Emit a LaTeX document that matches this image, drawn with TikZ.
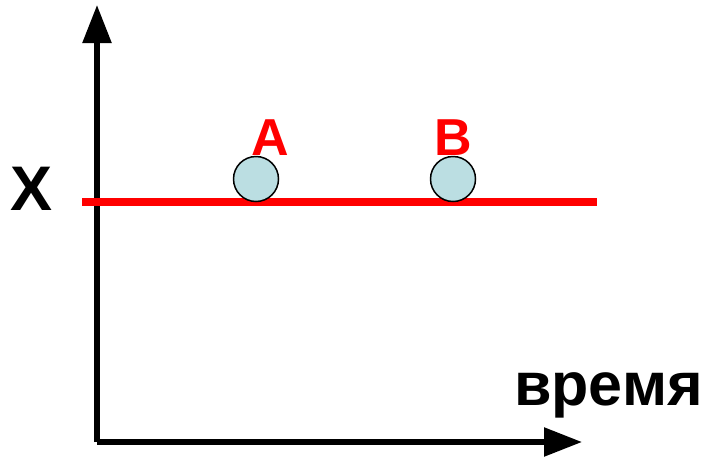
\documentclass[tikz,border=0pt]{standalone}
\usepackage{fontspec}
\setmainfont{Liberation Sans}
\usetikzlibrary{arrows.meta}
\definecolor{ballblue}{RGB}{187,222,226}
\tikzset{
    axis/.style={line width=5.5pt, -{Triangle[length=38pt, width=28pt]}},
    xline/.style={red, line width=7.5pt},
    ball/.style={circle, draw=black, line width=1.5pt, fill=ballblue, minimum size=45pt, inner sep=0pt},
    redlabel/.style={red, font=\bfseries\fontsize{52}{52}\selectfont, inner sep=0pt, anchor=base},
    blacklabel/.style={black, font=\bfseries\fontsize{61}{61}\selectfont, inner sep=0pt}
}
\begin{document}
\begin{tikzpicture}[x=1pt, y=-1pt]
    \useasboundingbox (0,0) rectangle (708,458);
    % axes
    \coordinate (o) at (97,442);
    \coordinate (top) at (97,5);
    \coordinate (right) at (582,442);
    \draw[axis] (o) -- (top);
    \draw[axis] (o) -- (right);
    % x level
    \coordinate (xl) at (82,202);
    \coordinate (xr) at (597,202);
    \draw[xline] (xl) -- (xr);
    % balls
    \node[ball] (a) at (256,179) {};
    \node[ball] (b) at (453,179) {};
    % labels
    \node[redlabel] (la) at (270,155) {A};
    \node[redlabel] (lb) at (453,155) {B};
    \node[blacklabel, anchor=base, font=\bfseries\fontsize{63}{63}\selectfont] (lx) at (32,210) {X};
    \node[blacklabel, anchor=base east] (lt) at (703,405) {время};
\end{tikzpicture}
\end{document}
